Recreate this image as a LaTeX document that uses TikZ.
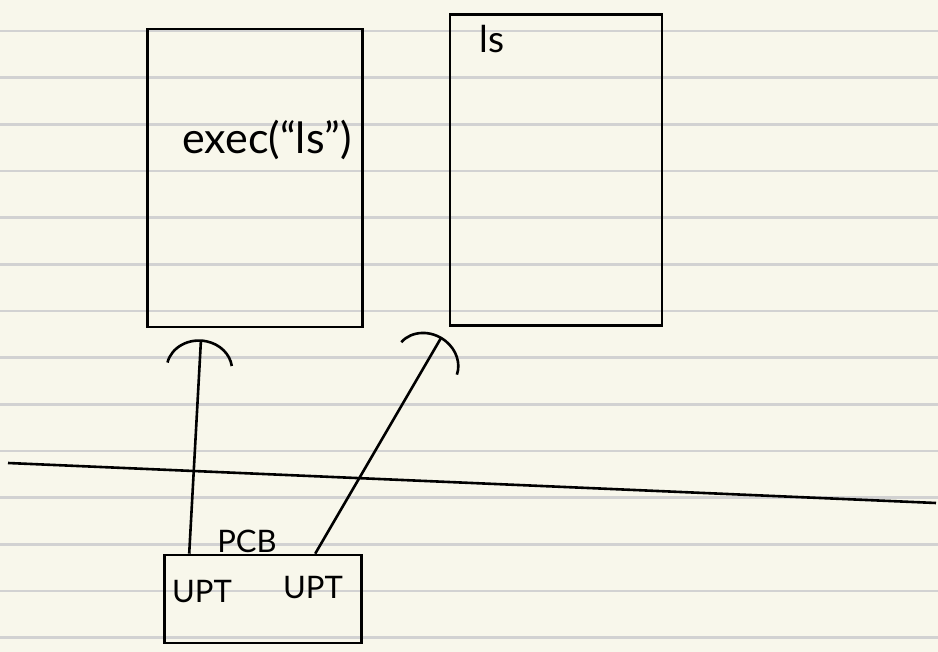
\documentclass[tikz,border=0pt]{standalone}
\usepackage{fontspec}
\setmainfont{Lato}
\usetikzlibrary{arrows.meta}
\definecolor{paper}{HTML}{F8F7EB}
\definecolor{rule}{HTML}{D2D2D2}

\begin{document}
\begin{tikzpicture}[x=1pt,y=-1pt,
  pen/.style={line width=2.6pt,black},
  box/.style={pen,draw,rectangle,inner sep=0pt},
  hand/.style={font=\fontsize{#1}{#1}\selectfont},
  ptr/.style={pen,-{Arc Barb[arc=160,length=30pt,width=68pt]}}]
\fill[paper] (0,0) rectangle (938,652);
\useasboundingbox (0,0) rectangle (938,652);
\foreach \k in {0,...,13}
  \draw[rule,line width=2.6pt] (0,31+46.67*\k) -- (938,31+46.67*\k);

\node[box,minimum width=215pt,minimum height=298pt] (proc) at (255,178) {};
\node[box,minimum width=212pt,minimum height=311pt] (image) at (556,170) {};
\node[box,minimum width=197pt,minimum height=88pt] (pcb) at (263,599) {};

\node[hand=43] (exec) at (267,140) {exec(``ls'')};
\node[hand=37,anchor=west] (ls) at (476,39) {ls};
\node[hand=31] (pcbname) at (247,541) {PCB};
\node[hand=31] (upta) at (202,592) {UPT};
\node[hand=31] (uptb) at (313,588) {UPT};

\coordinate (split w) at (8,463);
\coordinate (split e) at (936,503);
\draw[pen] (split w) -- (split e);

\draw[ptr] ([xshift=26pt]pcb.north west) -- ([xshift=-54pt,yshift=-11pt]proc.south);
\draw[ptr] ([xshift=152pt]pcb.north west) -- ([xshift=-7pt,yshift=-10pt]image.south west);
\end{tikzpicture}
\end{document}
